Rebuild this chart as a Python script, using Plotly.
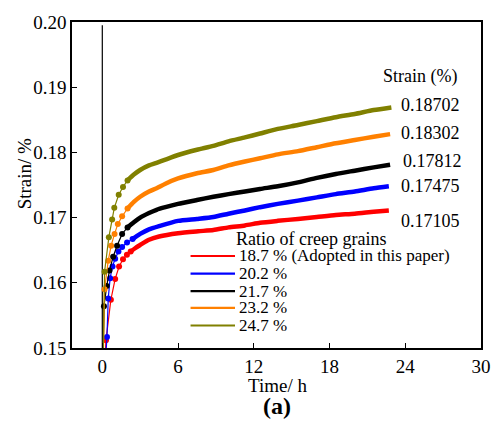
import plotly.graph_objects as go

# ---- data ----
series_names = ["18.7 % (Adopted in this paper)", "20.2 %", "21.7 %", "23.2 %", "24.7 %"]
series_colors = ["#ff0000", "#0000ff", "#000000", "#ff8000", "#808000"]
final_labels = ["0.17105", "0.17475", "0.17812", "0.18302", "0.18702"]

t_red = [0.0, 0.29, 0.68, 1.02, 1.33, 1.64, 1.95, 2.25, 2.6, 3.0, 3.7, 4.5, 6.0, 7.6, 8.8,
         10.0, 11.3, 12.5, 13.9, 15.5, 17.0, 18.5, 20.0, 21.5, 22.7]
s_red = [0.140, 0.1512, 0.1574, 0.1606, 0.1625, 0.1636, 0.1643, 0.1648, 0.1653, 0.1658, 0.1666,
         0.1671, 0.1676, 0.1679, 0.1681, 0.1685, 0.1688, 0.1692, 0.1695, 0.1698, 0.1701, 0.1704,
         0.1706, 0.1709, 0.1711]

t_blue = [0.0, 0.37, 0.47, 0.62, 0.81, 1.02, 1.28, 1.57, 1.96, 2.4, 3.0, 3.7, 4.5, 6.0, 7.5, 8.8,
          10.0, 11.3, 12.5, 13.9, 15.5, 17.0, 18.5, 20.0, 21.5, 22.7]
s_blue = [0.140, 0.1517, 0.1576, 0.1607, 0.1625, 0.1637, 0.1648, 0.1655, 0.1662, 0.1667, 0.1675,
          0.1682, 0.1687, 0.1695, 0.1698, 0.1701, 0.1706, 0.1711, 0.1716, 0.1721, 0.1726, 0.1731,
          0.1736, 0.1740, 0.1745, 0.1748]

t_black = [0.0, 0.13, 0.35, 0.57, 0.86, 1.17, 1.57, 2.0, 2.5, 3.0, 3.7, 4.3, 5.0, 6.0, 7.5, 8.8,
           10.0, 11.3, 12.5, 13.9, 15.5, 17.0, 18.5, 20.0, 21.5, 22.8]
s_black = [0.140, 0.1564, 0.1595, 0.1619, 0.1640, 0.1657, 0.1675, 0.1685, 0.1693, 0.1700, 0.1707,
           0.1712, 0.1716, 0.1721, 0.1727, 0.1732, 0.1736, 0.1740, 0.1744, 0.1748, 0.1754, 0.1761,
           0.1767, 0.1772, 0.1777, 0.1781]

t_orange = [0.0, 0.18, 0.47, 0.70, 0.97, 1.23, 1.57, 2.0, 2.5, 3.0, 3.7, 4.3, 5.0, 6.0, 7.5, 8.8,
            10.0, 11.3, 12.5, 13.9, 15.5, 17.0, 18.5, 20.0, 21.5, 22.8]
s_orange = [0.140, 0.1590, 0.1634, 0.1657, 0.1675, 0.1690, 0.1702, 0.1714, 0.1724, 0.1732, 0.1740,
            0.1745, 0.1752, 0.1760, 0.1768, 0.1773, 0.1780, 0.1786, 0.1791, 0.1797, 0.1802, 0.1808,
            0.1814, 0.1819, 0.1824, 0.1828]

t_olive = [0.0, 0.18, 0.52, 0.78, 0.95, 1.3, 1.64, 2.0, 2.5, 3.0, 3.7, 4.3, 5.0, 6.0, 7.5, 8.8,
           10.0, 11.3, 12.5, 13.9, 15.5, 17.0, 18.5, 20.0, 21.5, 22.9]
s_olive = [0.140, 0.1617, 0.1670, 0.1697, 0.1715, 0.1735, 0.1747, 0.1757, 0.1766, 0.1773, 0.1780,
           0.1784, 0.1789, 0.1796, 0.1804, 0.1810, 0.1817, 0.1823, 0.1829, 0.1836, 0.1842, 0.1848,
           0.1854, 0.1859, 0.1865, 0.1869]

zero_line_t = [0.0, 0.0]
zero_line_s = [0.15, 0.1995]

x_ticks = [0, 6, 12, 18, 24, 30]
y_ticks = [0.15, 0.16, 0.17, 0.18, 0.19, 0.20]

all_t = [t_red, t_blue, t_black, t_orange, t_olive]
all_s = [s_red, s_blue, s_black, s_orange, s_olive]

FONT = "Times New Roman, Liberation Serif, DejaVu Serif, serif"
split_t = 2.0

# plot-area pixel geometry (for placing legend/labels in paper units)
L, R, T, B = 72, 486, 15, 348
def px(xp):
    return (xp - L) / (R - L)
def py(yp):
    return (B - yp) / (B - T)

fig = go.Figure()

fig.add_trace(go.Scatter(x=zero_line_t, y=zero_line_s, mode="lines",
                         line=dict(color="black", width=1.2), showlegend=False, hoverinfo="skip"))

for name, color, ts, ss in zip(series_names, series_colors, all_t, all_s):
    k = next(i for i, t in enumerate(ts) if t >= split_t)
    fig.add_trace(go.Scatter(x=ts[:k + 1], y=ss[:k + 1], mode="lines+markers",
                             line=dict(color=color, width=1.2),
                             marker=dict(color=color, size=6),
                             showlegend=False, hoverinfo="skip"))
    fig.add_trace(go.Scatter(x=ts[k:], y=ss[k:], mode="lines",
                             line=dict(color=color, width=4.5, shape="spline", smoothing=0.6),
                             showlegend=False, hoverinfo="skip"))

annotations = []
shapes = []

annotations.append(dict(x=px(464), xref="paper", xanchor="right",
                        y=py(71), yref="paper", yanchor="middle",
                        text="Strain (%)", showarrow=False,
                        font=dict(family=FONT, size=18, color="black")))
label_ypx = [218, 183, 157, 128, 100]
label_xpx = [403, 403, 405, 403, 403]
for lab, lxp, lyp in zip(final_labels, label_xpx, label_ypx):
    annotations.append(dict(x=px(lxp), xref="paper", xanchor="left", y=py(lyp), yref="paper",
                            yanchor="middle", text=lab, showarrow=False,
                            font=dict(family=FONT, size=18, color="black")))

# legend (title + entries)
annotations.append(dict(x=px(236), xref="paper", xanchor="left",
                        y=py(237), yref="paper", yanchor="middle",
                        text="Ratio of creep grains", showarrow=False,
                        font=dict(family=FONT, size=18, color="black")))
leg_ypx = [254, 272, 290, 307, 325]
for name, color, lyp in zip(series_names, series_colors, leg_ypx):
    shapes.append(dict(type="line", xref="paper", yref="paper",
                       x0=px(192), x1=px(237), y0=py(lyp), y1=py(lyp),
                       line=dict(color=color, width=2.2)))
    annotations.append(dict(x=px(239), xref="paper", xanchor="left", y=py(lyp), yref="paper",
                            yanchor="middle", text=name, showarrow=False,
                            font=dict(family=FONT, size=17, color="black")))

annotations.append(dict(x=px(24), xref="paper", xanchor="center",
                        y=py(170), yref="paper", yanchor="middle",
                        text="Strain/ %", textangle=-90, showarrow=False,
                        font=dict(family=FONT, size=19, color="black")))
annotations.append(dict(x=px(280), xref="paper", xanchor="center",
                        y=py(386), yref="paper", yanchor="middle",
                        text="Time/ h", showarrow=False,
                        font=dict(family=FONT, size=19, color="black")))
annotations.append(dict(x=px(279), xref="paper", xanchor="center",
                        y=py(407), yref="paper", yanchor="middle",
                        text="<b>(a)</b>", showarrow=False,
                        font=dict(family=FONT, size=24, color="black")))

fig.update_layout(
    width=503, height=423,
    margin=dict(l=72, r=17, t=15, b=75),
    paper_bgcolor="white", plot_bgcolor="white",
    font=dict(family=FONT, size=16, color="black"),
    annotations=annotations, shapes=shapes,
    showlegend=False,
    xaxis=dict(range=[-2.4, 30], tickvals=x_ticks, ticks="inside", ticklen=5,
               tickcolor="black", showline=True, linecolor="black", linewidth=1.5,
               mirror=True, showgrid=False, zeroline=False,
               tickfont=dict(family=FONT, size=19)),
    yaxis=dict(range=[0.15, 0.20], tickvals=y_ticks, tickformat=".2f", ticks="inside",
               ticklen=5, tickcolor="black", showline=True, linecolor="black", linewidth=1.5,
               mirror=True, showgrid=False, zeroline=False,
               tickfont=dict(family=FONT, size=19)),
)

fig.write_html("out.html")
